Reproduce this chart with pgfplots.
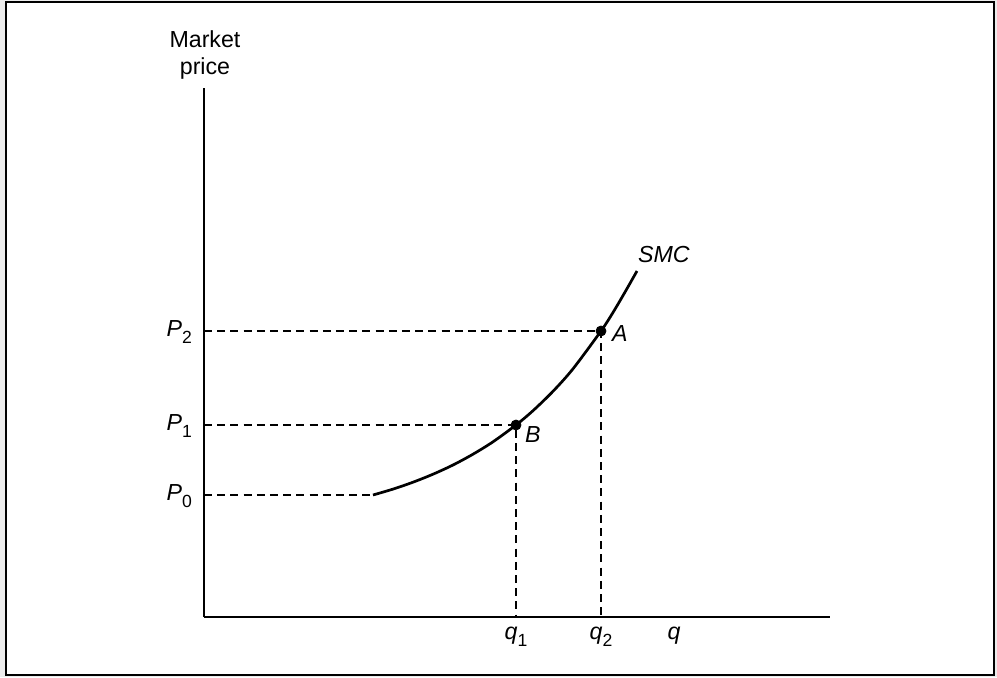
\documentclass[border=0pt]{standalone}
\usepackage{pgfplots}
\pgfplotsset{compat=1.18}
\usepackage{fontspec}
\setmainfont{Liberation Sans}
\newcommand{\sub}[1]{\raisebox{-0.55ex}{\fontsize{8.8}{9}\selectfont #1}}
\tikzset{lbl/.style={font=\fontsize{11.6}{13.6}\selectfont}, ilbl/.style={font=\fontsize{11.6}{13.6}\selectfont\itshape}}
\begin{document}
\begin{tikzpicture}
\begin{axis}[
  scale only axis,
  width=313pt, height=264.5pt,
  xmin=204, xmax=830, ymin=60, ymax=589,
  axis lines=left,
  axis line style={-, line width=0.65pt},
  xtick=\empty, ytick=\empty,
  clip=false,
]
% background and frame
\fill[gray!15] (axis cs:0,0) rectangle (axis cs:997,677);
\draw[line width=1.1pt, fill=white] (axis cs:6,2) rectangle (axis cs:994,675);
\draw[line width=0.65pt] (axis cs:204,60) -- (axis cs:204,589);
\draw[line width=0.65pt] (axis cs:204,60) -- (axis cs:830,60);
% dashed guides
\addplot[black, line width=0.6pt, dash pattern=on 4pt off 2.6pt] coordinates {(204,346) (601,346) (601,60)};
\addplot[black, line width=0.6pt, dash pattern=on 4pt off 2.6pt] coordinates {(204,252) (516,252) (516,60)};
\addplot[black, line width=0.6pt, dash pattern=on 4pt off 2.6pt] coordinates {(204,182) (373,182)};
% SMC curve
\addplot[black, line width=1.35pt, smooth] coordinates {
(373,182) (393,187.9) (413,194.8) (433,202.8) (453,212.0) (473,222.8) (493,235.2)
(516,252) (533,266.3) (553,285.7) (573,308.2) (601,346) (613,364.5) (625,384.9) (637,406)};
% points
\addplot[only marks, mark=*, mark size=2.5pt, black] coordinates {(516,252) (601,346)};
% labels
\node[ilbl, anchor=west] at (axis cs:605,343) {A};
\node[ilbl, anchor=west] at (axis cs:518,242) {B};
\node[ilbl, anchor=west] at (axis cs:631,422) {SMC};
\node[lbl, align=center] at (axis cs:205,622) {Market\\price};
\node[lbl, anchor=east] at (axis cs:199,345) {\textit{P}\sub{2}};
\node[lbl, anchor=east] at (axis cs:199,251) {\textit{P}\sub{1}};
\node[lbl, anchor=east] at (axis cs:199,181) {\textit{P}\sub{0}};
\node[lbl] at (axis cs:516,40) {\textit{q}\sub{1}};
\node[lbl] at (axis cs:601,40) {\textit{q}\sub{2}};
\node[lbl] at (axis cs:674,41) {\textit{q}};
\end{axis}
\end{tikzpicture}
\end{document}
